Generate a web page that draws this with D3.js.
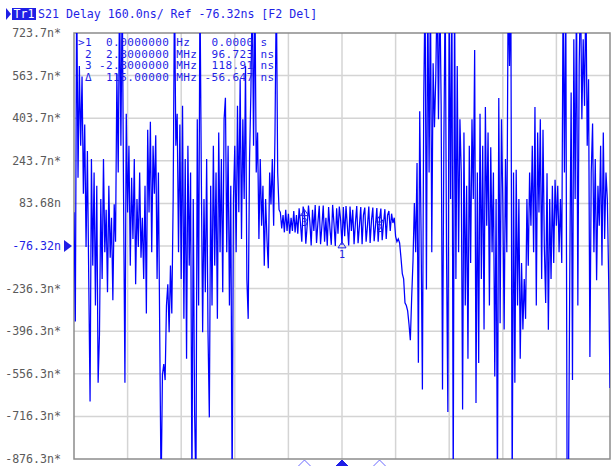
<html>
  <head>
    <script src="https://d3js.org/d3.v7.min.js" charset="utf-8"></script>
    <style type="text/css">
      body { margin: 0; padding: 0; background: #fff; }
      svg text { font-family: "DejaVu Sans Mono", monospace; white-space: pre; }
    </style>
  </head>
  <body>
    <div id="chart"></div>
    <script type="text/javascript">
      // stimulus span, MHz (401 points)
      var startMHz = -20, stopMHz = 20;
      var refValue = -76.32, perDiv = 160, divisions = 10;

      var yTickLabels = ["723.7n*", "563.7n*", "403.7n*", "243.7n*", "83.68n", "-76.32n",
                         "-236.3n*", "-396.3n*", "-556.3n*", "-716.3n*", "-876.3n*"];

      // S21 delay trace, ns (values past the screen edge get clipped)
      var delayNs = [
        50, -360, 900, 180, 600, 300, 560, 120, 380, -80, 280, -200, -660, 250, -150, 200, -300, 150, -590, -410,
        100, -200, 250, -100, 60, -250, 150, -120, 30, -280, 80, -60,
        570, 200, 900, 300, 900, 100, -590, 420,
        50, 300, -150, 180, -50, 250, -220, 100, -80, 200, -120, 30, -200,
        150, -330, 360, 50, 390, -100, 300, 120, 340, -200, 200, -420,
        -1000, -560, -520, -580, -300, -220,
        -400, -150, -330, 100,
        900, 300, 420, -100,
        380, -200, 450, -350, 250, -500, 300, -150, 200, -1000, 100, -700, -1000, 400, -300, 900, 200, -400,
        100, -250, 250, -400, -720, 150, -300, 300, -150, 200, -350, 350, -100, 250, -250, 400, 480, -100, 300, -300, 150, -1000, 100,
        300, -100, 450, 50, 550, -50, 400, 100, 600, -200, -350, 250, 500, 900, 300, 900, 200,
        350, -50, 250, 0, 150, -150, 100, -50, -160, 200, 80, 250, 0, 350, 900, 200, 60,
        50, -10, 40, -25, 60, -20, 45, -30, 30, -20, 55, -25, 40, -30, 65,
        10, -60, 72, 49, -68, 0, 76, 15, -74, 60, -20, 78, -65, 10, 75, -70, 0, 76, -60, 30,
        -75, 70, -10, -72, 78, 10, -76, 65, -30, 72, 20, -72, 70, -40, 74, 0, -74, 72, -20, 60,
        -70, 10, 74, -66, 0, 70, -70, 40, 68, -60, 0, 72, -65, 20, 68, -58, 0, 66, -60, 25,
        64, -55, 10, 62, -50, 40, 55,
        -20, 45, 10, 30, -40,
        -60, -50, -65, -120, -180, -200, -290, -300, -320, -370, -430, -270, -130, 85, -100, 235, -515, 430, -20, -615,
        480, 900, -240, 900, 200, 900, -100, 610, 370, 560, 900, 400, 900, 450, -615, 300, 900, -100, -700, 900,
        100, 900, -1000, 900, -200, 600, -100, 400, 200, -690, 350, -300, 150, -500, 300,
        -140, 400, 100, 660, -666, 200, -516, 420, -200, 300, -390, 446, 0, 350, -300, 295, -100, 200, -566, 100,
        -1000, 480, -366, 400, 100, -390, 250, -100, 900, 600, 900, -1000, 200, -590, 210, -300, 100, -500, -140, -390,
        -200, -350, 100, -150, 200, 0, 300, -100, 446, -300, 350, 50, 400, -200, 360, -80, -290, 197, -391, 100,
        -200, 150, -140, 172, 0, 150, -100, 100, -140, 900, 200, 900, -1000, -1000, -170, 500, -580, 700, 100, 900,
        -300, 600, 900, 400, 700, 450, 900, 300, 550, -493, 200, 384, -100, 250, -205, 150, 0, 300, -150, 350,
        -50, 200, 100, -200, -610
      ];

      var markerNames = ["1", "2", "3"];
      var markerMHz = [0, 2.8, -2.8];
      var readoutRows = [">1  0.0000000 Hz   0.0000 s",
                         " 2  2.8000000 MHz  96.723 ns",
                         " 3 -2.8000000 MHz  118.91 ns",
                         " \u0394  115.00000 MHz -56.647 ns"];

      var width = 611, height = 466;
      var svg = d3.select("#chart").append("svg").attr("width", width).attr("height", height);

      var x = d3.scaleLinear().domain([startMHz, stopMHz]).range([74, 610]);
      var y = d3.scaleLinear()
          .domain([refValue - perDiv * divisions / 2, refValue + perDiv * divisions / 2])
          .range([459, 33]);

      var step = (stopMHz - startMHz) / (delayNs.length - 1);
      var points = delayNs.map(function (v, i) { return { f: startMHz + i * step, v: v }; });

      // grid
      var yTicks = d3.range(divisions + 1).map(function (k) { return refValue + perDiv * (5 - k); });
      var xTicks = d3.range(divisions + 1).map(function (k) { return startMHz + k * (stopMHz - startMHz) / divisions; });
      svg.append("g").selectAll("line").data(yTicks.slice(1, -1)).enter().append("line")
        .attr("x1", x(startMHz)).attr("x2", x(stopMHz))
        .attr("y1", function (d) { return y(d); }).attr("y2", function (d) { return y(d); })
        .attr("stroke", "#d4d4d4").attr("stroke-width", 1.5);
      svg.append("g").selectAll("line").data(xTicks.slice(1, -1)).enter().append("line")
        .attr("y1", y.range()[0]).attr("y2", y.range()[1])
        .attr("x1", function (d) { return x(d); }).attr("x2", function (d) { return x(d); })
        .attr("stroke", "#d4d4d4").attr("stroke-width", 1.5);
      svg.append("rect")
        .attr("x", x(startMHz)).attr("y", y.range()[1])
        .attr("width", x(stopMHz) - x(startMHz)).attr("height", y.range()[0] - y.range()[1])
        .attr("fill", "none").attr("stroke", "#8c8c8c").attr("stroke-width", 1.5);

      // y labels
      svg.append("g").selectAll("text").data(yTicks).enter().append("text")
        .attr("x", 61).attr("y", function (d) { return y(d) + 4; })
        .attr("text-anchor", "end").attr("font-size", "11.6px")
        .attr("fill", function (d, i) { return i === 5 ? "#1f1fe6" : "#5a5a5a"; })
        .text(function (d, i) { return yTickLabels[i]; });
      svg.append("path")
        .attr("d", "M64," + (y(refValue) - 6) + "L72," + y(refValue) + "L64," + (y(refValue) + 6) + "Z")
        .attr("fill", "#1f1fe6");

      // trace
      svg.append("clipPath").attr("id", "plotClip").append("rect")
        .attr("x", x(startMHz)).attr("y", y.range()[1])
        .attr("width", x(stopMHz) - x(startMHz)).attr("height", y.range()[0] - y.range()[1]);
      var line = d3.line().x(function (d) { return x(d.f); }).y(function (d) { return y(d.v); });
      svg.append("path").datum(points)
        .attr("clip-path", "url(#plotClip)")
        .attr("d", line).attr("fill", "none")
        .attr("stroke", "#0000ff").attr("stroke-width", 1.25);

      // markers on the trace
      function valueAt(f) { return delayNs[Math.round((f - startMHz) / step)]; }
      var mk = svg.append("g");
      markerMHz.forEach(function (f, i) {
        var px = x(f), py = y(valueAt(f));
        mk.append("path").attr("d", "M" + (px - 4) + "," + (py + 3) + "L" + (px + 4) + "," + (py + 3) + "L" + px + "," + (py - 3) + "Z")
          .attr("fill", "none").attr("stroke", "#1f1fe6").attr("stroke-width", 1);
        mk.append("text").attr("x", px).attr("y", py + 13).attr("text-anchor", "middle")
          .attr("font-size", "10px").attr("fill", "#1f1fe6").text(markerNames[i]);
      });

      // stimulus markers under the grid
      markerMHz.forEach(function (f, i) {
        var px = x(f);
        svg.append("path").attr("d", "M" + (px - 6) + ",466L" + px + ",460L" + (px + 6) + ",466")
          .attr("fill", i === 0 ? "#1f1fe6" : "none").attr("stroke", i === 0 ? "#1f1fe6" : "#6a6aff").attr("stroke-width", 1);
      });

      // marker readout table
      svg.append("g").selectAll("text").data(readoutRows).enter().append("text")
        .attr("x", 78).attr("y", function (d, i) { return 46 + i * 11.7; })
        .attr("font-size", "11px").attr("letter-spacing", "0.4px").attr("fill", "#1f1fe6")
        .text(function (d) { return d; });

      // header
      svg.append("path").attr("d", "M6,8L11,14L6,20Z").attr("fill", "#1f1fe6");
      svg.append("rect").attr("x", 12).attr("y", 8).attr("width", 24).attr("height", 12).attr("fill", "#1f1fe6");
      svg.append("text").attr("x", 13.5).attr("y", 18).attr("font-size", "11.6px").attr("fill", "#fff").text("Tr1");
      svg.append("text").attr("x", 38).attr("y", 18).attr("font-size", "11.6px").attr("fill", "#1f1fe6")
        .text("S21 Delay 160.0ns/ Ref -76.32ns [F2 Del]");
    </script>
  </body>
</html>
